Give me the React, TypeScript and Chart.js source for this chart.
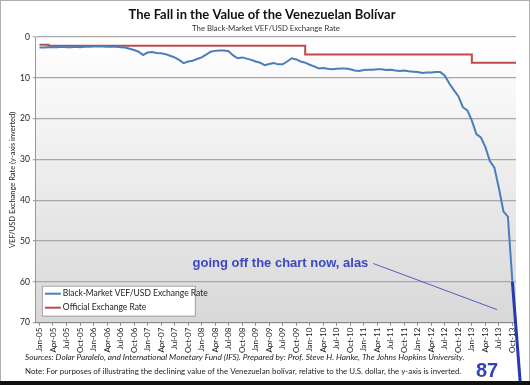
import React, { useEffect, useRef } from "react";
import { Chart, registerables } from "chart.js";

Chart.register(...registerables);

const tickLabels = [
  "Jan-05", "Apr-05", "Jul-05", "Oct-05",
  "Jan-06", "Apr-06", "Jul-06", "Oct-06",
  "Jan-07", "Apr-07", "Jul-07", "Oct-07",
  "Jan-08", "Apr-08", "Jul-08", "Oct-08",
  "Jan-09", "Apr-09", "Jul-09", "Oct-09",
  "Jan-10", "Apr-10", "Jul-10", "Oct-10",
  "Jan-11", "Apr-11", "Jul-11", "Oct-11",
  "Jan-12", "Apr-12", "Jul-12", "Oct-12",
  "Jan-13", "Apr-13", "Jul-13", "Oct-13",
];

// Monthly black-market rate, Jan-05 (index 0) .. Oct-13 (index 105)
const blackMarketRates = [
  2.6, 2.6, 2.5, 2.5, 2.5, 2.4, 2.5, 2.5, 2.4, 2.5, 2.4, 2.4,
  2.3, 2.3, 2.3, 2.4, 2.4, 2.4, 2.5, 2.6, 2.9, 3.2, 3.6, 4.4,
  3.8, 3.7, 3.9, 4.0, 4.2, 4.6, 5.0, 5.6, 6.4, 6.0, 5.8, 5.4,
  5.0, 4.3, 3.6, 3.4, 3.3, 3.3, 3.5, 4.5, 5.2, 5.0, 5.3, 5.6,
  6.0, 6.3, 6.9, 6.6, 6.4, 6.7, 6.7, 6.0, 5.2, 5.5, 6.0, 6.3,
  6.8, 7.2, 7.7, 7.6, 7.8, 7.9, 7.8, 7.7, 7.7, 7.9, 8.2, 8.3,
  8.1, 8.0, 8.0, 7.9, 7.9, 8.1, 8.0, 8.2, 8.3, 8.2, 8.4, 8.5,
  8.6, 8.8, 8.7, 8.7, 8.6, 8.6, 9.5, 11.4, 13.0, 14.5, 17.2, 18.0,
  20.5, 23.8, 24.6, 27.0, 30.4, 32.0, 37.0, 42.7, 44.0, 60.0,
];

const officialMonths = [0, 2, 59, 96, 105.8];
const officialRates = [1.92, 2.15, 4.3, 6.3, 6.3];

const offChartMonths = [105, 106.9];
const offChartRates = [60, 87];

const yTicks = [0, 10, 20, 30, 40, 50, 60, 70];

const TITLE = "The Fall in the Value of the Venezuelan Bolívar";
const SUBTITLE = "The Black-Market VEF/USD Exchange Rate";
const FOOT1 =
  "Sources: Dolar Paralelo, and International Monetary Fund (IFS). Prepared by: Prof. Steve H. Hanke, The Johns Hopkins University.";
const FOOT2 =
  "Note: For purposes of illustrating the declining value of the Venezuelan bolívar, relative to the U.S. dollar, the y-axis is inverted.";
const NOTE = "going off the chart now, alas";
const NOTE_VALUE = "87";

const FONT = "Lato, 'Open Sans', sans-serif";

const decoPlugin = {
  id: "deco",
  beforeDraw(chart: any) {
    const { ctx, chartArea: a, width, height } = chart;
    ctx.save();
    ctx.fillStyle = "#ffffff";
    ctx.fillRect(0, 0, width, height);
    const g = ctx.createLinearGradient(0, a.top, 0, a.bottom);
    g.addColorStop(0, "#ffffff");
    g.addColorStop(1, "#d8d8d8");
    ctx.fillStyle = g;
    ctx.fillRect(a.left, a.top, a.right - a.left, a.bottom - a.top);
    // titles
    ctx.textAlign = "center";
    ctx.textBaseline = "middle";
    ctx.fillStyle = "#111";
    ctx.font = `bold 13px ${FONT}`;
    ctx.fillText(TITLE, 262, 15);
    ctx.font = `7.8px ${FONT}`;
    ctx.fillStyle = "#333";
    ctx.fillText(SUBTITLE, 266, 28);
    ctx.restore();
  },
  afterDraw(chart: any) {
    const { ctx, chartArea: a, width, height, scales } = chart;
    const xs = scales.x;
    const ys = scales.y;
    ctx.save();
    // legend box
    const lx = a.left + 6;
    const ly = a.bottom - 37;
    ctx.fillStyle = "#ffffff";
    ctx.fillRect(lx, ly, 153, 30);
    ctx.strokeStyle = "#a0a0a0";
    ctx.lineWidth = 1;
    ctx.strokeRect(lx + 0.5, ly + 0.5, 153, 30);
    const ds = chart.data.datasets;
    [0, 1].forEach((i) => {
      const yy = ly + 8 + i * 14;
      ctx.strokeStyle = ds[i].borderColor;
      ctx.lineWidth = 2;
      ctx.beginPath();
      ctx.moveTo(lx + 3, yy);
      ctx.lineTo(lx + 19, yy);
      ctx.stroke();
      ctx.fillStyle = "#222";
      ctx.font = `8.5px ${FONT}`;
      ctx.textAlign = "left";
      ctx.textBaseline = "middle";
      ctx.fillText(ds[i].label, lx + 21, yy);
    });
    // annotation
    const tx = xs.getPixelForValue(34);
    const ty = ys.getPixelForValue(55.5);
    ctx.fillStyle = "#3b49c0";
    ctx.font = "bold 13px 'Liberation Sans', Arial, sans-serif";
    ctx.textAlign = "left";
    ctx.textBaseline = "middle";
    ctx.fillText(NOTE, tx, ty);
    const tw = ctx.measureText(NOTE).width;
    ctx.strokeStyle = "#2f3db0";
    ctx.lineWidth = 0.8;
    ctx.beginPath();
    ctx.moveTo(tx + tw + 5, ty);
    ctx.lineTo(xs.getPixelForValue(101.6), ys.getPixelForValue(66.8));
    ctx.stroke();
    ctx.font = "bold 20px 'Liberation Sans', Arial, sans-serif";
    ctx.textAlign = "center";
    ctx.fillStyle = "#3344b8";
    ctx.fillText(NOTE_VALUE, 487, 371);
    // footer
    ctx.fillStyle = "#222";
    ctx.textAlign = "left";
    ctx.font = `italic 8.3px ${FONT}`;
    ctx.fillText(FOOT1, 25, 357);
    ctx.font = `7.9px ${FONT}`;
    ctx.fillText(FOOT2, 25, 371);
    // frame
    ctx.strokeStyle = "#b0b0b0";
    ctx.lineWidth = 1;
    ctx.strokeRect(0.5, 0.5, width - 1, height - 1);
    ctx.fillStyle = "#111";
    ctx.fillRect(0, height - 4, width, 4);
    ctx.restore();
  },
};

export default function App() {
  const ref = useRef<HTMLCanvasElement | null>(null);
  useEffect(() => {
    if (!ref.current) return;
    const chart = new Chart(ref.current, {
      type: "line",
      data: {
        datasets: [
          {
            label: "Black-Market VEF/USD Exchange Rate",
            data: blackMarketRates.map((v, i) => ({ x: i, y: v })),
            borderColor: "#4a7ebb",
            borderWidth: 2,
            pointRadius: 0,
            tension: 0,
          },
          {
            label: "Official Exchange Rate",
            data: officialMonths.map((m, i) => ({ x: m, y: officialRates[i] })),
            borderColor: "#be4b48",
            borderWidth: 2,
            pointRadius: 0,
            stepped: "before",
          },
          {
            label: "off chart",
            data: offChartMonths.map((m, i) => ({ x: m, y: offChartRates[i] })),
            borderColor: "#2838b0",
            borderWidth: 3,
            pointRadius: 0,
            clip: false,
          },
        ],
      },
      options: {
        responsive: false,
        animation: false,
        layout: { padding: { left: 8, right: 14, top: 37, bottom: 30 } },
        plugins: {
          legend: { display: false },
          title: { display: false },
          tooltip: { enabled: false },
        },
        scales: {
          x: {
            type: "linear",
            min: -0.8,
            max: 105.8,
            afterBuildTicks: (scale: any) => {
              scale.ticks = tickLabels.map((_, i) => ({ value: i * 3 }));
            },
            ticks: {
              autoSkip: false,
              maxRotation: 90,
              minRotation: 90,
              font: { size: 8, family: FONT },
              color: "#222",
              padding: 2,
              callback: (v: any) => tickLabels[Math.round(Number(v) / 3)],
            },
            grid: {
              drawOnChartArea: false,
              drawTicks: true,
              tickLength: 3,
              color: "#888",
            },
            border: { color: "#888" },
          },
          y: {
            reverse: true,
            min: 0,
            max: 70,
            afterBuildTicks: (scale: any) => {
              scale.ticks = yTicks.map((v) => ({ value: v }));
            },
            ticks: {
              font: { size: 8.5, family: FONT },
              color: "#222",
              padding: 3,
            },
            grid: { color: "#a8a8a8", lineWidth: 1.3, tickLength: 3 },
            border: { color: "#999" },
            title: {
              display: true,
              text: "VEF/USD Exchange Rate (y-axis inverted)",
              font: { size: 7.5, family: FONT },
              color: "#222",
              padding: { top: 0, bottom: 0 },
            },
          },
        },
      },
      plugins: [decoPlugin],
    });
    return () => chart.destroy();
  }, []);
  return (
    <div style={{ position: "fixed", left: 0, top: 0, width: 530, height: 385 }}>
      <canvas ref={ref} width={530} height={385} style={{ display: "block" }} />
    </div>
  );
}
